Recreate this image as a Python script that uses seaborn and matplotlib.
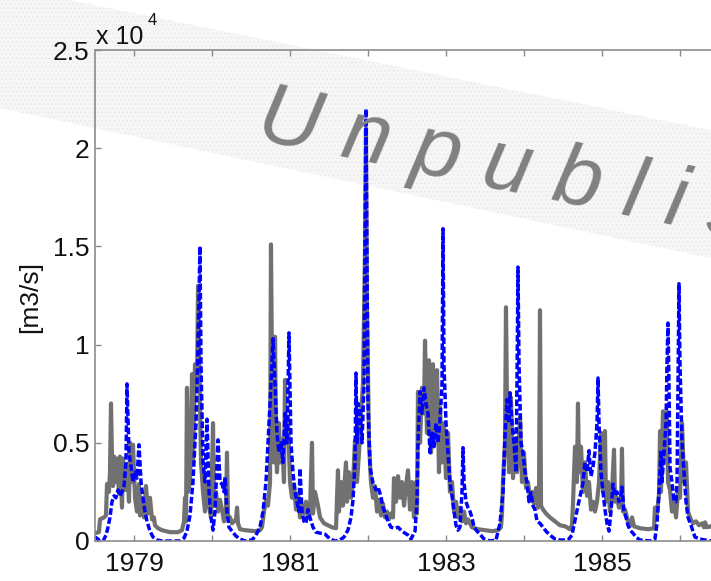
import matplotlib
matplotlib.use("Agg")
import matplotlib.pyplot as plt
from matplotlib.patches import Polygon
import pandas as pd
import seaborn as sns

# Observed discharge (decimal year, m3/s)
obs_time = [
    1978.500, 1978.551, 1978.564, 1978.615, 1978.641, 1978.654, 1978.679, 1978.692,
    1978.705, 1978.718, 1978.731, 1978.744, 1978.769, 1978.782, 1978.808, 1978.821,
    1978.846, 1978.859, 1978.885, 1978.910, 1978.936, 1978.949, 1978.974, 1978.987,
    1979.013, 1979.038, 1979.064, 1979.077, 1979.103, 1979.128, 1979.154, 1979.179,
    1979.205, 1979.231, 1979.256, 1979.269, 1979.308, 1979.359, 1979.462, 1979.564,
    1979.615, 1979.641, 1979.654, 1979.667, 1979.679, 1979.692, 1979.718, 1979.744,
    1979.756, 1979.782, 1979.808, 1979.821, 1979.846, 1979.859, 1979.885, 1979.910,
    1979.936, 1979.962, 1979.987,
    1980.013, 1980.026, 1980.051, 1980.077, 1980.103, 1980.128, 1980.154, 1980.179,
    1980.192, 1980.205, 1980.231, 1980.256, 1980.282, 1980.308, 1980.321, 1980.333,
    1980.359, 1980.423, 1980.551, 1980.615, 1980.641, 1980.667, 1980.692, 1980.718,
    1980.744, 1980.756, 1980.769, 1980.795, 1980.808, 1980.821, 1980.833, 1980.859,
    1980.872, 1980.897, 1980.923, 1980.936, 1980.949, 1980.974,
    1981.000, 1981.026, 1981.051, 1981.077, 1981.103, 1981.128, 1981.154, 1981.179,
    1981.205, 1981.231, 1981.256, 1981.282, 1981.295, 1981.321, 1981.359, 1981.385,
    1981.436, 1981.487, 1981.538, 1981.590, 1981.615, 1981.628, 1981.654, 1981.679,
    1981.705, 1981.718, 1981.731, 1981.756, 1981.782, 1981.808, 1981.833, 1981.859,
    1981.885, 1981.910, 1981.936, 1981.962, 1981.974, 1981.987,
    1982.013, 1982.038, 1982.064, 1982.090, 1982.115, 1982.141, 1982.167, 1982.192,
    1982.218, 1982.244, 1982.269, 1982.295, 1982.321, 1982.333, 1982.359, 1982.385,
    1982.410, 1982.436, 1982.462, 1982.487, 1982.513, 1982.538, 1982.564, 1982.590,
    1982.615, 1982.628, 1982.641, 1982.667, 1982.692, 1982.718, 1982.731, 1982.756,
    1982.782, 1982.808, 1982.833, 1982.859, 1982.885, 1982.910, 1982.923, 1982.949,
    1982.974,
    1983.000, 1983.026, 1983.051, 1983.077, 1983.103, 1983.128, 1983.154, 1983.179,
    1983.205, 1983.231, 1983.256, 1983.282, 1983.333, 1983.410, 1983.500, 1983.590,
    1983.667, 1983.705, 1983.718, 1983.731, 1983.756, 1983.769, 1983.782, 1983.808,
    1983.833, 1983.859, 1983.885, 1983.910, 1983.949, 1983.974,
    1984.000, 1984.026, 1984.051, 1984.077, 1984.103, 1984.128, 1984.154, 1984.179,
    1984.192, 1984.205, 1984.218, 1984.244, 1984.282, 1984.333, 1984.397, 1984.462,
    1984.526, 1984.590, 1984.615, 1984.628, 1984.654, 1984.679, 1984.692, 1984.705,
    1984.731, 1984.756, 1984.782, 1984.808, 1984.833, 1984.859, 1984.885, 1984.910,
    1984.936, 1984.962, 1984.987,
    1985.013, 1985.038, 1985.051, 1985.077, 1985.103, 1985.128, 1985.154, 1985.167,
    1985.192, 1985.218, 1985.244, 1985.256, 1985.269, 1985.295, 1985.333, 1985.372,
    1985.385, 1985.410, 1985.487, 1985.590, 1985.667, 1985.679, 1985.705, 1985.731,
    1985.744, 1985.756, 1985.782, 1985.808, 1985.833, 1985.846, 1985.872, 1985.897,
    1985.923, 1985.949, 1985.974,
    1986.000, 1986.026, 1986.051, 1986.077, 1986.103, 1986.128, 1986.167, 1986.205,
    1986.244, 1986.282, 1986.308, 1986.321, 1986.346, 1986.397, 1986.449, 1986.500,
]
obs_flow = [
    400, 450, 1100, 1200, 1300, 2900, 2500, 3500,
    7000, 4200, 2800, 4300, 3000, 4200, 2400, 4300,
    1700, 4200, 2600, 3900, 2000, 5000, 3000, 4900,
    2200, 1500, 2900, 1300, 2200, 1200, 2800, 1400,
    2200, 1100, 1200, 800, 650, 550, 450, 450,
    550, 1000, 2200, 1000, 7800, 2500, 3000, 8500,
    4000, 9000, 8000, 13000, 7000, 4000, 2500, 1500,
    3000, 1800, 1200,
    6000, 1800, 2500, 1500, 2100, 1600, 1000, 1500,
    4500, 1300, 1200, 900, 1000, 1100, 1700, 900,
    600, 550, 500, 550, 700, 1500, 2100, 1800,
    3000, 15100, 9000, 4000, 10400, 5000, 3500, 6000,
    4000, 5200, 3000, 8200, 5000, 6300,
    3000, 2200, 2900, 1600, 2400, 1200, 1800, 1400,
    2000, 1200, 1500, 5000, 1400, 2500, 1800, 1200,
    900, 800, 700, 650, 3600, 1500, 3000, 1800,
    3300, 4000, 2000, 3500, 2200, 3000, 5100, 3000,
    4500, 6500, 8000, 15000, 21000, 12000,
    5000, 3000, 2200, 2800, 1500, 2100, 1300, 1900,
    1200, 1500, 1100, 1400, 1200, 3200, 2000, 3300,
    2200, 3000, 1800, 2800, 3600, 1600, 3000, 1200,
    3000, 1400, 7600, 5000, 7800, 6500, 10200, 5500,
    9200, 4500, 9000, 5000, 8700, 3500, 6800, 4000,
    6000,
    3200, 5500, 2500, 3000, 1500, 2000, 1200, 1700,
    1000, 1500, 900, 1100, 700, 600, 550, 500,
    550, 700, 1400, 3100, 5000, 11900, 7000, 3500,
    7300, 3200, 5000, 3500, 6300, 3000,
    4500, 2700, 3000, 2200, 2500, 1900, 2700, 1700,
    2000, 11750, 1800, 1600, 1400, 1200, 1000, 800,
    750, 600, 800, 1900, 4800, 3000, 7000, 3500,
    4800, 2500, 4000, 2300, 3000, 1600, 2000, 1500,
    2000, 3000, 5500,
    2500, 5600, 2000, 3000, 1500, 2500, 4650, 2000,
    2200, 1700, 2000, 4700, 1500, 1600, 1000, 800,
    1200, 750, 650, 600, 650, 1700, 1400, 2400,
    5600, 2500, 6600, 4000, 6600, 3000, 2600, 1500,
    2000, 1200, 2500,
    2200, 6000, 3000, 4000, 1500, 1200, 900, 1000,
    800, 900, 700, 950, 700, 750, 650, 600,
]

# Simulated discharge (decimal year, m3/s)
sim_time = [
    1978.500, 1978.538, 1978.564, 1978.603, 1978.641, 1978.667, 1978.692, 1978.718,
    1978.744, 1978.769, 1978.795, 1978.821, 1978.846, 1978.872, 1978.897, 1978.910,
    1978.936, 1978.962, 1978.987,
    1979.013, 1979.038, 1979.064, 1979.090, 1979.115, 1979.141, 1979.167, 1979.205,
    1979.244, 1979.295, 1979.359, 1979.590, 1979.641, 1979.679, 1979.718, 1979.756,
    1979.795, 1979.821, 1979.846, 1979.859, 1979.885, 1979.910, 1979.936, 1979.962,
    1979.987,
    1980.013, 1980.038, 1980.077, 1980.103, 1980.128, 1980.154, 1980.167, 1980.192,
    1980.218, 1980.256, 1980.308, 1980.359, 1980.423, 1980.513, 1980.564, 1980.615,
    1980.654, 1980.692, 1980.718, 1980.744, 1980.782, 1980.808, 1980.833, 1980.859,
    1980.885, 1980.910, 1980.936, 1980.962, 1980.987,
    1981.013, 1981.038, 1981.064, 1981.090, 1981.115, 1981.128, 1981.154, 1981.179,
    1981.205, 1981.231, 1981.256, 1981.295, 1981.333, 1981.385, 1981.449, 1981.513,
    1981.577, 1981.641, 1981.692, 1981.744, 1981.782, 1981.808, 1981.833, 1981.846,
    1981.859, 1981.872, 1981.897, 1981.923, 1981.949, 1981.962, 1981.974, 1981.987,
    1982.000, 1982.026, 1982.064, 1982.103, 1982.128, 1982.167, 1982.192, 1982.231,
    1982.256, 1982.295, 1982.346, 1982.385, 1982.436, 1982.474, 1982.513, 1982.551,
    1982.577, 1982.603, 1982.628, 1982.641, 1982.667, 1982.692, 1982.718, 1982.744,
    1982.769, 1982.795, 1982.821, 1982.846, 1982.872, 1982.897, 1982.923, 1982.949,
    1982.962, 1982.974,
    1983.000, 1983.026, 1983.051, 1983.077, 1983.103, 1983.128, 1983.154, 1983.179,
    1983.205, 1983.218, 1983.231, 1983.256, 1983.282, 1983.308, 1983.333, 1983.359,
    1983.397, 1983.436, 1983.487, 1983.564, 1983.641, 1983.692, 1983.731, 1983.756,
    1983.782, 1983.808, 1983.821, 1983.846, 1983.872, 1983.897, 1983.910, 1983.923,
    1983.936, 1983.962, 1983.987,
    1984.013, 1984.038, 1984.064, 1984.090, 1984.115, 1984.141, 1984.167, 1984.205,
    1984.244, 1984.282, 1984.333, 1984.397, 1984.462, 1984.564, 1984.615, 1984.654,
    1984.692, 1984.731, 1984.756, 1984.782, 1984.808, 1984.833, 1984.859, 1984.885,
    1984.910, 1984.936, 1984.949, 1984.962, 1984.987,
    1985.013, 1985.038, 1985.064, 1985.090, 1985.115, 1985.141, 1985.167, 1985.192,
    1985.218, 1985.244, 1985.256, 1985.282, 1985.308, 1985.333, 1985.359, 1985.397,
    1985.436, 1985.487, 1985.615, 1985.679, 1985.705, 1985.731, 1985.756, 1985.769,
    1985.795, 1985.821, 1985.833, 1985.846, 1985.859, 1985.872, 1985.897, 1985.923,
    1985.949, 1985.962, 1985.974, 1985.987,
    1986.000, 1986.026, 1986.051, 1986.077, 1986.103, 1986.141, 1986.192, 1986.256,
    1986.321, 1986.397, 1986.500,
]
sim_flow = [
    200, 100, 0, 0, 300, 700, 1200, 2000,
    2300, 2200, 2600, 2300, 2500, 2800, 4000, 8000,
    4500, 3800, 3000,
    3500, 3200, 4900, 3000, 2200, 1500, 1000, 500,
    200, 50, 0, 0, 150, 500, 1300, 3000,
    6000, 10000, 15000, 9000, 4000, 3000, 6200, 2500,
    1200,
    550, 1500, 5150, 3000, 2900, 2500, 3250, 1500,
    700, 500, 250, 100, 0, 50, 300, 700,
    1500, 3000, 5000, 7000, 10300, 8000, 5500, 4500,
    5000, 4000, 6500, 5000, 10600,
    5000, 3500, 2500, 2000, 1500, 3700, 1500, 1000,
    900, 1600, 1200, 700, 450, 400, 350, 100,
    0, 50, 200, 560, 1200, 2100, 4000, 8550,
    5000, 7000, 6600, 5000, 8000, 15000, 22000, 14000,
    7000, 3750, 2950, 2600, 2750, 2250, 1700, 1300,
    1000, 700, 650, 700, 500, 400, 300, 100,
    300, 500, 2000, 5000, 7600, 6500, 7800, 7000,
    6500, 4500, 5500, 4800, 6000, 5000, 6150, 8000,
    15900, 9000,
    6000, 4500, 3000, 2300, 1500, 800, 550, 700,
    2500, 4750, 3000, 2000, 1700, 1500, 1200, 700,
    500, 350, 100, 0, 50, 900, 2500, 5300,
    7200, 6000, 7550, 6000, 5000, 3500, 8000, 13950,
    9000, 5000, 4500,
    3500, 3000, 2000, 2450, 1800, 1600, 1000, 900,
    700, 500, 300, 100, 50, 50, 300, 1050,
    1800, 2500, 2950, 4000, 3500, 4600, 3300, 3800,
    4500, 6000, 8300, 6000, 3500,
    2500, 1600, 900, 500, 1500, 2900, 2300, 2500,
    2000, 2300, 2750, 1500, 1200, 800, 550, 400,
    200, 50, 0, 100, 900, 2500, 4600, 3000,
    4500, 6000, 9000, 11100, 8000, 3750, 3000, 2100,
    2000, 3000, 8000, 13100,
    9000, 5000, 3500, 2000, 1200, 800, 200, 100,
    50, 0, 0,
]

year_ticks = [1979, 1980, 1981, 1982, 1983, 1984, 1985, 1986]
year_labels = ["1979", "", "1981", "", "1983", "", "1985", ""]
flow_ticks = [0, 5000, 10000, 15000, 20000, 25000]
flow_labels = ["0", "0.5", "1", "1.5", "2", "2.5"]
flow_unit = "[m3/s]"
scale_text = "x 10"
scale_exp = "4"
stamp = "U n p u b l i s h e d"

sns.set_theme(style="white")
plt.rcParams["font.family"] = ["Liberation Sans", "DejaVu Sans"]
plt.rcParams["hatch.linewidth"] = 0.5

W, H = 711, 581
fig = plt.figure(figsize=(W / 100, H / 100), dpi=100)


def fx(px):
    return px / W


def fy(py):
    return 1 - py / H


ax = fig.add_axes([fx(95), 1 - 541 / H, 624 / W, 491 / H])
ax.patch.set_alpha(0)

# Diagonal stamp band, drawn beneath the axes contents
band = Polygon(
    [(fx(-5), fy(-15)), (fx(720), fy(132)), (fx(720), fy(260)), (fx(-5), fy(107))],
    closed=True, transform=fig.transFigure, facecolor="#f6f6f6",
    edgecolor="#e6e6e6", hatch="....", linewidth=0, zorder=-5,
)
fig.patches.append(band)

obs = pd.DataFrame({"year": obs_time, "flow": obs_flow})
sim = pd.DataFrame({"year": sim_time, "flow": sim_flow})

sns.lineplot(data=obs, x="year", y="flow", ax=ax, color="#717171",
             linewidth=3.0, estimator=None, sort=False)
sns.lineplot(data=sim, x="year", y="flow", ax=ax, color="#0000ff",
             linewidth=2.5, estimator=None, sort=False,
             linestyle=(0, (1.9, 0.75)))

ax.set_xlim(1978.5, 1986.5)
ax.set_ylim(0, 25000)
ax.set_xticks(year_ticks, year_labels)
ax.set_yticks(flow_ticks, flow_labels)
ax.set_xlabel("")
ax.set_ylabel("")
ax.tick_params(direction="in", length=4, width=1, color="#8a8a8a",
               labelsize=19, labelcolor="#111111",
               top=True, bottom=True, left=True, right=False)
ax.tick_params(axis="x", pad=8)
ax.tick_params(axis="y", pad=4)
for side in ("left", "top", "bottom"):
    ax.spines[side].set_color("#8c8c8c")
    ax.spines[side].set_linewidth(1.2)
ax.spines["right"].set_visible(False)

fig.text(fx(30), fy(297), flow_unit, rotation=90, ha="center", va="center",
         fontsize=19, color="#111111")
fig.text(fx(96), fy(44), scale_text, ha="left", va="baseline",
         fontsize=18, color="#111111")
fig.text(fx(148), fy(25), scale_exp, ha="left", va="baseline",
         fontsize=12, color="#111111")

fig.text(fx(255), fy(138), stamp, rotation=-11.7, rotation_mode="anchor",
         ha="left", va="baseline", fontsize=62, style="italic",
         color="#808080", zorder=10)

fig.savefig("out.png", dpi=100)
